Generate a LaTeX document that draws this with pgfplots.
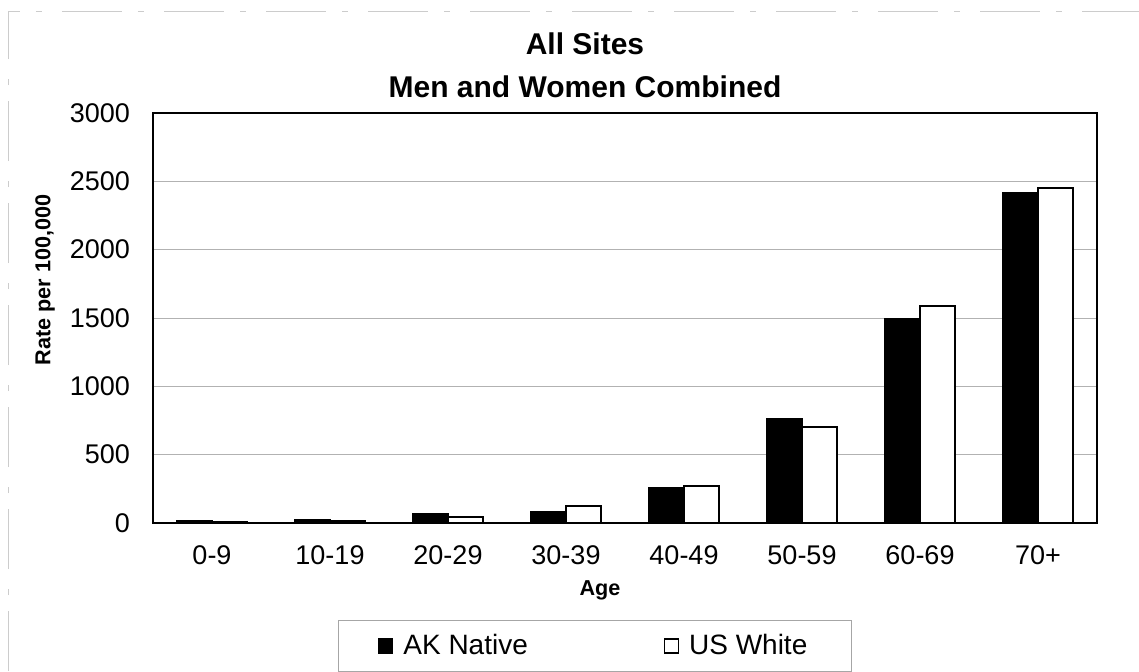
\documentclass[border=0pt]{standalone}
\usepackage{fontspec}
\setmainfont{Liberation Sans}
\usepackage{pgfplots}
\pgfplotsset{compat=1.18}

% rates per 100,000 by age group
\pgfplotstableread{
x  ak    us
0  15    10
1  22    14
2  66    45
3  85    122
4  258   271
5  762   700
6  1495  1591
7  2417  2454
}\rates

\begin{document}
\begin{tikzpicture}
% page = 1139 x 671 px at 0.5pt per px, plot box lower left at px (153,523)
\path[use as bounding box] (-76.5pt,-74pt) rectangle (493pt,261.5pt);
\draw[gray!40, dash pattern=on 30pt off 8pt on 3pt off 10pt, line width=0.4pt]
  (-72.5pt,-74pt) -- (-72.5pt,256pt) -- (493pt,256pt);
\begin{axis}[
    at={(0,0)}, anchor=south west,
    scale only axis,
    width=472pt, height=205pt,
    ybar=0pt,
    bar width=0.3,
    xmin=-0.5, xmax=7.5,
    ymin=0, ymax=3000,
    ytick={0,500,...,3000},
    xtick={0,...,7},
    xticklabels={0-9,10-19,20-29,30-39,40-49,50-59,60-69,70+},
    major tick length=0pt,
    axis line style={black, line width=1pt},
    ymajorgrids,
    grid style={gray!60, line width=0.5pt},
    /pgf/number format/assume math mode=true,
    /pgf/number format/1000 sep={},
    tick label style={font=\fontsize{13.5}{16}\selectfont},
    yticklabel style={xshift=-8pt},
    xticklabel style={yshift=-8pt},
    legend style={at={(0.468,-0.30)}, anchor=center,
      draw=gray!70, line width=0.4pt,
      font=\fontsize{14}{16}\selectfont,
      inner xsep=20pt, inner ysep=5pt,
      legend columns=2,
      /tikz/every odd column/.append style={column sep=3pt},
      /tikz/every even column/.append style={column sep=66pt}},
    legend image code/.code={\draw[#1, line width=0.6pt] (0pt,-3.5pt) rectangle (7pt,3.5pt);},
  ]
\addplot[fill=black, draw=black, line width=0.6pt] table[x=x, y=ak] {\rates};
\addplot[fill=white, draw=black, line width=1pt] table[x=x, y=us] {\rates};
\legend{AK Native, US White}
\end{axis}
\node[font=\bfseries\fontsize{15}{18}\selectfont, anchor=base] at (216pt,234pt) {All Sites};
\node[font=\bfseries\fontsize{15}{18}\selectfont, anchor=base] at (216pt,213pt) {Men and Women Combined};
\node[font=\bfseries\fontsize{10.8}{13}\selectfont] at (223.5pt,-33.5pt) {Age};
\node[font=\bfseries\fontsize{10.8}{13}\selectfont, rotate=90] at (-54pt,121.5pt) {Rate per 100,000};
\end{tikzpicture}
\end{document}
